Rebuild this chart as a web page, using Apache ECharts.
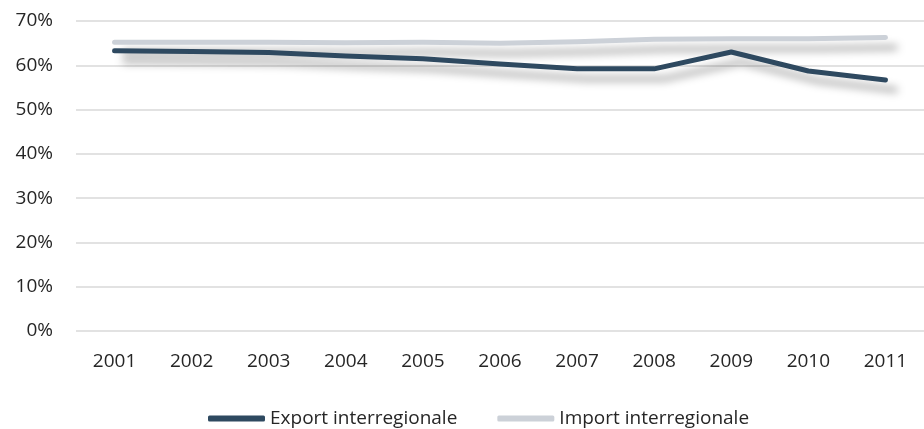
<!DOCTYPE html>
<html><head><meta charset="utf-8">
<script src="https://cdn.jsdelivr.net/npm/echarts@6/dist/echarts.min.js"></script>
<style>html,body{margin:0;padding:0;background:#fff}#c{width:924px;height:429px}</style>
</head><body><div id="c"></div>
<script>
var years = ['2001','2002','2003','2004','2005','2006','2007','2008','2009','2010','2011'];
var exportInter = [63.3, 63.1, 62.9, 62.1, 61.5, 60.3, 59.2, 59.2, 63.0, 58.7, 56.7];
var importInter = [65.2, 65.2, 65.2, 65.1, 65.2, 65.0, 65.3, 65.9, 66.0, 66.0, 66.3];
var yTicks = [0, 10, 20, 30, 40, 50, 60, 70];
var seriesNames = ['Export interregionale', 'Import interregionale'];

var font = '"Open Sans", "Noto Sans", sans-serif';
var chart = echarts.init(document.getElementById('c'), null, {renderer: 'canvas'});
chart.setOption({
  animation: false,
  textStyle: {fontFamily: font},
  grid: {left: 76, right: -5, top: 21, bottom: 98},
  xAxis: {
    type: 'category', data: years, boundaryGap: true,
    axisLine: {show: false}, axisTick: {show: false},
    axisLabel: {color: '#262626', fontSize: 19, fontFamily: font, margin: 21}
  },
  yAxis: {
    type: 'value', min: yTicks[0], max: yTicks[yTicks.length - 1], interval: 10,
    axisLabel: {color: '#262626', fontSize: 19, fontFamily: font, margin: 23, formatter: '{value}%'},
    splitLine: {lineStyle: {color: '#d9d9d9', width: 1.5}},
    axisLine: {show: false}, axisTick: {show: false}
  },
  legend: {
    left: 203, top: 404, itemWidth: 57, itemHeight: 6, itemGap: 40,
    icon: 'roundRect',
    textStyle: {color: '#262626', fontSize: 19, fontFamily: font},
    data: seriesNames
  },
  series: [
    {
      name: seriesNames[1], type: 'line', data: importInter, symbol: 'none', z: 2,
      itemStyle: {color: '#ccd1d8'},
      lineStyle: {color: '#ccd1d8', width: 5, cap: 'round', join: 'round',
        shadowColor: 'rgba(0,0,0,0.35)', shadowBlur: 8, shadowOffsetX: 10, shadowOffsetY: 10}
    },
    {
      name: seriesNames[0], type: 'line', data: exportInter, symbol: 'none', z: 3,
      itemStyle: {color: '#2e4960'},
      lineStyle: {color: '#2e4960', width: 5, cap: 'round', join: 'round',
        shadowColor: 'rgba(0,0,0,0.35)', shadowBlur: 8, shadowOffsetX: 10, shadowOffsetY: 10}
    }
  ]
});
</script></body></html>
